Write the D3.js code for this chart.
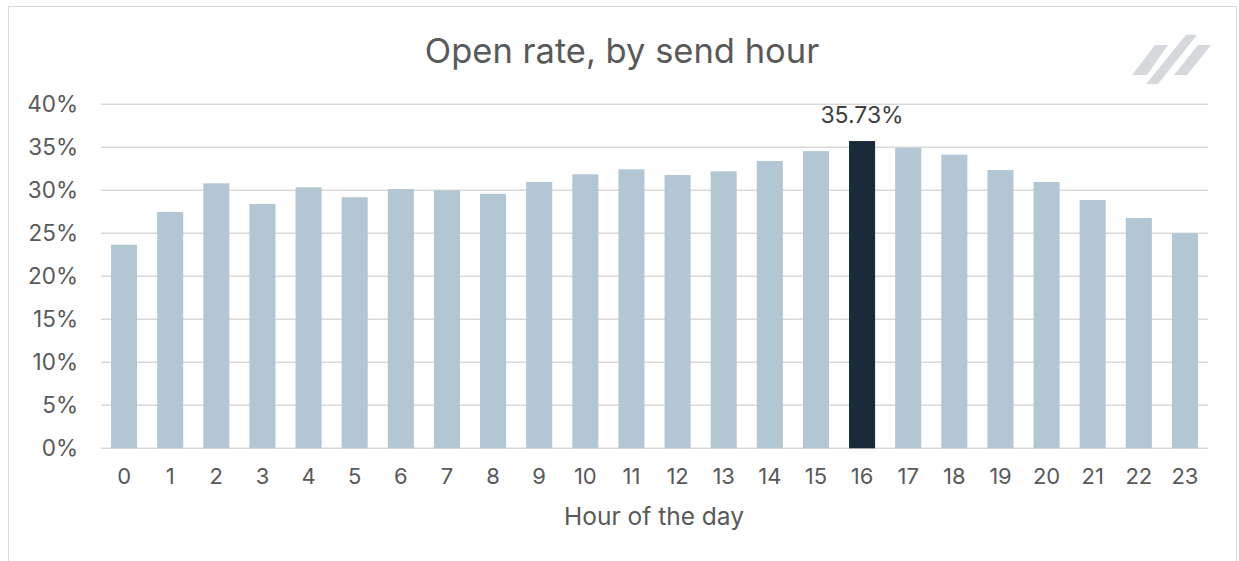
<!DOCTYPE html>
<html>
<head>
<meta charset="utf-8">
<script src="https://cdn.jsdelivr.net/npm/d3@7"></script>
<style>
  body { margin: 0; background: #fff; }
  svg { display: block; }
</style>
</head>
<body>
<svg width="1239" height="561"></svg>
<script>
// open rate per send hour
const hours = ["0","1","2","3","4","5","6","7","8","9","10","11","12","13","14","15","16","17","18","19","20","21","22","23"];
const openRate = [23.67, 27.48, 30.81, 28.41, 30.35, 29.19, 30.15, 30.0, 29.6, 30.97, 31.86, 32.44,
                  31.78, 32.2, 33.41, 34.55, 35.73, 34.95, 34.14, 32.36, 30.97, 28.87, 26.78, 25.0];
const yTicks = [0, 5, 10, 15, 20, 25, 30, 35, 40];
const peakHour = "16";

const font = "Inter, 'Liberation Sans', sans-serif";
const grey = "#595959";

const svg = d3.select("svg");

// outer frame
svg.append("rect")
    .attr("x", 8.5).attr("y", 6.5)
    .attr("width", 1228).attr("height", 600)
    .attr("fill", "none")
    .attr("stroke", "#d9d9d9");

const x = d3.scaleBand()
    .domain(hours)
    .range([101, 1208])
    .paddingInner(0.435)
    .paddingOuter(0.2175);

const y = d3.scaleLinear()
    .domain([0, 40])
    .range([448.3, 104.3]);

// gridlines
svg.append("g")
    .selectAll("line")
    .data(yTicks)
    .enter()
    .append("line")
    .attr("x1", 101).attr("x2", 1208)
    .attr("y1", d => y(d)).attr("y2", d => y(d))
    .attr("stroke", "#d9d9d9")
    .attr("stroke-width", 1.5);

// y axis labels
const yAxis = svg.append("g")
    .attr("transform", "translate(101,0)")
    .call(d3.axisLeft(y).tickValues(yTicks).tickSize(0).tickPadding(23).tickFormat(d => d + "%"));
yAxis.select(".domain").remove();
yAxis.selectAll("text")
    .attr("font-family", font)
    .attr("font-size", 22.5)
    .attr("fill", grey);

// bars
svg.append("g")
    .selectAll("rect")
    .data(hours)
    .enter()
    .append("rect")
    .attr("x", d => x(d))
    .attr("width", x.bandwidth())
    .attr("y", (d, i) => y(openRate[i]))
    .attr("height", (d, i) => y(0) - y(openRate[i]))
    .attr("fill", d => d == peakHour ? "#1a2a3b" : "#b3c6d3");

// x axis labels
const xAxis = svg.append("g")
    .attr("transform", `translate(0,${y(0)})`)
    .call(d3.axisBottom(x).tickSize(0).tickPadding(20));
xAxis.select(".domain").remove();
xAxis.selectAll("text")
    .attr("font-family", font)
    .attr("font-size", 22)
    .attr("fill", grey);

// peak label
const peakIdx = hours.indexOf(peakHour);
svg.append("text")
    .attr("x", x(peakHour) + x.bandwidth() / 2)
    .attr("y", y(openRate[peakIdx]) - 18)
    .attr("text-anchor", "middle")
    .attr("font-family", font)
    .attr("font-size", 23)
    .attr("fill", "#404040")
    .text(openRate[peakIdx].toFixed(2) + "%");

// titles
svg.append("text")
    .attr("x", 622).attr("y", 63)
    .attr("text-anchor", "middle")
    .attr("font-family", font)
    .attr("font-size", 34.5)
    .attr("fill", grey)
    .text("Open rate, by send hour");

svg.append("text")
    .attr("x", 654).attr("y", 525)
    .attr("text-anchor", "middle")
    .attr("font-family", font)
    .attr("font-size", 24.5)
    .attr("fill", grey)
    .text("Hour of the day");

// logo mark, top right
const logo = svg.append("g").attr("fill", "#d5d9dd");
logo.append("path").attr("d", "M1155,45 L1168,45 L1147,75 L1132,75 Z");
logo.append("path").attr("d", "M1186,35 Q1190,34 1197,35 L1158,84 L1146,84 Z");
logo.append("path").attr("d", "M1198,45 L1211,45 L1187,75 L1174,75 Z");
</script>
</body>
</html>
